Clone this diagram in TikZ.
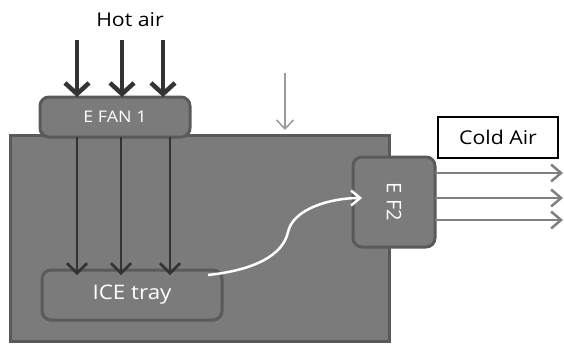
\documentclass[tikz,border=0pt]{standalone}
\usepackage{fontspec}
\setmainfont{Open Sans}
\usetikzlibrary{arrows.meta,calc}
\newcommand\mystretch[1]{\scalebox{1.12}[1]{#1}}
\definecolor{boxfill}{HTML}{7B7B7B}
\definecolor{boxline}{HTML}{5A5A5A}
\definecolor{darkarrow}{HTML}{333333}
\definecolor{grayarrow}{HTML}{808080}
\definecolor{thingray}{HTML}{9A9A9A}
\tikzset{
  panel/.style={draw=boxline, fill=boxfill, line width=3pt, inner sep=0pt, outer sep=0pt},
  roundbox/.style={panel, rounded corners=9pt},
  whitetext/.style={text=white},
  hotarrow/.style={draw=darkarrow, line width=4.5pt, -{Straight Barb[length=11pt,width=24pt]}},
  innerarrow/.style={draw=darkarrow, line width=2.5pt, -{Straight Barb[length=10pt,width=20pt]}},
  outarrow/.style={draw=grayarrow, line width=2.5pt, -{Straight Barb[length=10pt,width=17pt]}},
  thinarrow/.style={draw=thingray, line width=1.5pt, -{Straight Barb[length=9pt,width=17pt]}},
  flowarrow/.style={draw=white, line width=2.5pt, -{Straight Barb[length=9pt,width=15pt]}}
}
\begin{document}
\begin{tikzpicture}[x=1pt,y=-1pt]
\useasboundingbox (0,0) rectangle (564,343);
% main cabinet
\node[panel, minimum width=379pt, minimum height=206pt] (main) at (199.5,238) {};
% boxes
\node[roundbox, minimum width=150pt, minimum height=40pt, whitetext, font=\fontsize{16}{18}\selectfont] (fan1) at (115,117) {\mystretch{E FAN 1}};
\node[roundbox, minimum width=180pt, minimum height=50pt, whitetext, font=\fontsize{20}{22}\selectfont] (tray) at (132,295) {\mystretch{ICE tray}};
\node[roundbox, minimum width=90pt, minimum height=82pt, whitetext, font=\fontsize{20}{22}\selectfont, rotate=-90] (ef2) at (394,202) {E F2};
\node[draw=black, fill=white, line width=1.5pt, minimum width=120pt, minimum height=41pt, inner sep=0pt, font=\fontsize{19}{21}\selectfont] (cold) at (498,137.5) {\mystretch{Cold Air}};
\node[font=\fontsize{19}{21}\selectfont] (hot) at (130,20) {\mystretch{Hot air}};
% hot air arrows
\coordinate (h1) at (77,40);
\coordinate (h2) at (122,40);
\coordinate (h3) at (163,40);
\draw[hotarrow] (h1) -- (h1 |- fan1.north);
\draw[hotarrow] (h2) -- (h2 |- fan1.north);
\draw[hotarrow] (h3) -- (h3 |- fan1.north);
% inner arrows
\draw[innerarrow] ($(fan1.south)+(-38,0)$) -- ($(tray.north)+(-55,5)$);
\draw[innerarrow] ($(fan1.south)+(6,0)$) -- ($(tray.north)+(-11,5)$);
\draw[innerarrow] ($(fan1.south)+(55,0)$) -- ($(tray.north)+(38,5)$);
% thin gray arrow
\coordinate (g1) at (285,73);
\draw[thinarrow] (g1) -- ($(main.north)+(85.5,-5)$);
% output arrows
\coordinate (o1) at (563,173);
\coordinate (o2) at (563,198);
\coordinate (o3) at (563,220);
\draw[outarrow] (ef2.north |- o1) -- (o1);
\draw[outarrow] (ef2.north |- o2) -- (o2);
\draw[outarrow] (ef2.north |- o3) -- (o3);
% white flow curve
\coordinate (fs) at ($(tray.north east)+(-14,5)$);
\coordinate (fe) at ($(ef2.south)+(9,-4)$);
\draw[flowarrow] (fs) .. controls (255,270) and (283,255) .. (288,232) .. controls (293,209) and (330,198) .. (fe);
\end{tikzpicture}
\end{document}
